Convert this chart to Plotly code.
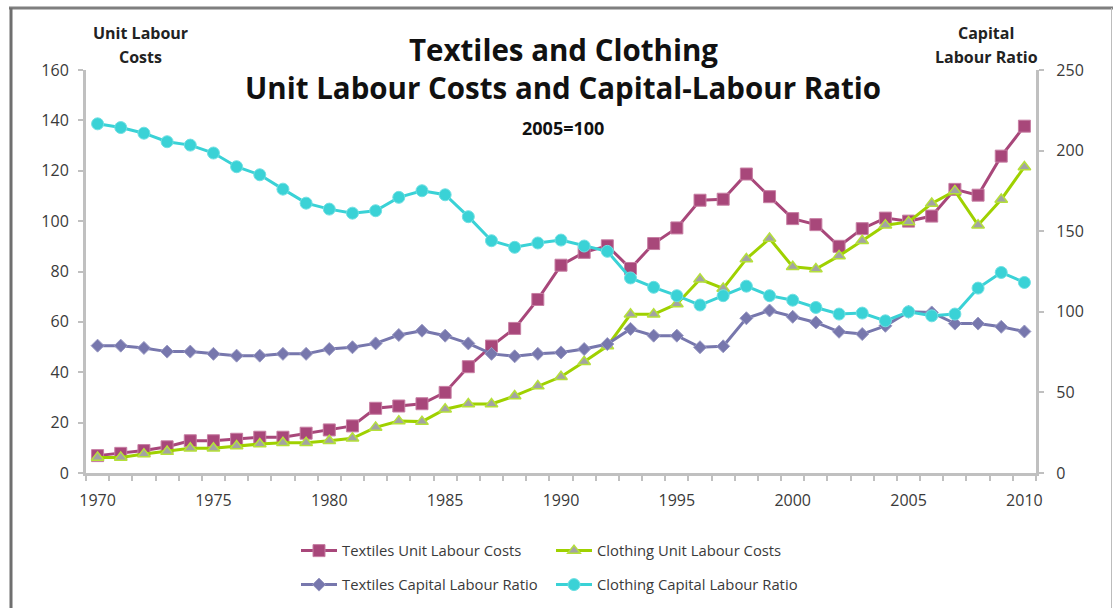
import plotly.graph_objects as go

# Annual series, 2005 = 100
years = list(range(1970, 2011))

textiles_ulc = [6.9, 7.8, 8.9, 10.4, 12.8, 12.8, 13.4, 14.2, 14.2, 15.8,
                17.1, 18.7, 25.7, 26.6, 27.5, 32.0, 42.2, 50.4, 57.4, 68.9,
                82.5, 87.6, 90.2, 81.2, 91.1, 97.3, 108.3, 108.7, 118.7, 109.7,
                101.0, 98.6, 90.0, 97.0, 101.2, 100.0, 102.0, 112.6, 110.3, 125.8,
                137.7]

clothing_ulc = [6.2, 6.2, 7.5, 8.5, 9.8, 9.8, 10.7, 11.5, 12.0, 12.0,
                12.8, 13.8, 18.1, 20.6, 20.4, 25.3, 27.4, 27.4, 30.6, 34.5,
                38.2, 44.2, 50.4, 63.0, 63.0, 67.1, 76.9, 73.3, 85.0, 93.1,
                81.9, 81.0, 86.2, 92.2, 98.4, 99.7, 107.0, 112.0, 98.4, 108.6,
                121.5]

textiles_klr = [79.0, 79.0, 77.6, 75.3, 75.3, 73.9, 72.8, 72.8, 73.9, 73.9,
                76.9, 78.0, 80.4, 85.6, 88.3, 85.2, 80.4, 73.9, 72.4, 73.9,
                74.8, 76.9, 80.0, 89.4, 85.2, 85.2, 78.0, 78.6, 96.0, 100.8,
                96.9, 93.4, 87.6, 86.2, 91.3, 100.0, 99.6, 92.7, 92.7, 90.7,
                87.8]

clothing_klr = [216.6, 214.3, 210.8, 205.5, 203.4, 198.5, 190.0, 185.0, 176.1, 167.4,
                163.7, 161.2, 162.7, 171.0, 175.1, 172.6, 159.0, 144.1, 140.0, 142.7,
                144.5, 140.8, 137.5, 121.0, 115.2, 110.0, 104.2, 110.0, 115.9, 110.0,
                107.2, 102.7, 98.6, 99.2, 94.4, 100.0, 97.5, 98.6, 114.7, 124.4,
                118.2]

left_ticks = [0, 20, 40, 60, 80, 100, 120, 140, 160]
right_ticks = [0, 50, 100, 150, 200, 250]
year_labels = [1970, 1975, 1980, 1985, 1990, 1995, 2000, 2005, 2010]

W, H = 1113, 608
L, R, T, B = 86, 1036, 70, 473

FONT = "Open Sans"
TXT = "#3a3a3a"
AXIS = "#c0c0c0"


def px(x):
    return (x - L) / (R - L)


def py(y):
    return (B - y) / (B - T)


fig = go.Figure()

fig.add_trace(go.Scatter(
    x=years, y=textiles_ulc, name="Textiles Unit Labour Costs", mode="lines+markers",
    line=dict(color="#a8477a", width=3),
    marker=dict(symbol="square", size=12, color="#a8477a",
                line=dict(color="#c77ea3", width=1)),
    legend="legend"))

fig.add_trace(go.Scatter(
    x=years, y=clothing_ulc, name="Clothing Unit Labour Costs", mode="lines+markers",
    line=dict(color="#9fd100", width=3),
    marker=dict(symbol="triangle-up", size=11, color="#a3a3a3",
                line=dict(color="#b5e03a", width=1.5)),
    legend="legend2"))

fig.add_trace(go.Scatter(
    x=years, y=textiles_klr, name="Textiles Capital Labour Ratio", mode="lines+markers",
    yaxis="y2",
    line=dict(color="#7777ad", width=3),
    marker=dict(symbol="diamond", size=10, color="#7777ad",
                line=dict(color="#9a9ac4", width=1)),
    legend="legend3"))

fig.add_trace(go.Scatter(
    x=years, y=clothing_klr, name="Clothing Capital Labour Ratio", mode="lines+markers",
    yaxis="y2",
    line=dict(color="#3ad2d6", width=3),
    marker=dict(symbol="circle", size=12, color="#3ad2d6",
                line=dict(color="#6fe0e3", width=1)),
    legend="legend4"))

tick_font = dict(family=FONT, size=16, color=TXT)

fig.update_layout(
    width=W, height=H,
    margin=dict(l=L, r=W - R, t=T, b=H - B, pad=0, autoexpand=False),
    paper_bgcolor="white", plot_bgcolor="white",
    showlegend=True,
    xaxis=dict(
        range=[1969.5, 2010.5], tickmode="array", tickvals=year_labels,
        ticks="", showgrid=False, zeroline=False,
        showline=True, linecolor=AXIS, linewidth=3,
        tickfont=tick_font, ticklabelstandoff=11,
        minor=dict(tickmode="linear", tick0=1969.5, dtick=1, ticks="outside",
                   ticklen=5, tickwidth=1.5, tickcolor=AXIS, showgrid=False),
    ),
    yaxis=dict(
        range=[0, 160], tickmode="array", tickvals=left_ticks,
        ticks="outside", ticklen=5, tickwidth=1.5, tickcolor=AXIS,
        showgrid=False, zeroline=False,
        showline=True, linecolor=AXIS, linewidth=3,
        tickfont=tick_font, ticklabelstandoff=6,
    ),
    yaxis2=dict(
        range=[0, 250], tickmode="array", tickvals=right_ticks,
        ticktext=["\u2007" + str(v) for v in right_ticks],
        overlaying="y", side="right",
        ticks="outside", ticklen=5, tickwidth=1.5, tickcolor=AXIS,
        showgrid=False, zeroline=False,
        showline=True, linecolor=AXIS, linewidth=3,
        tickfont=tick_font,
    ),
)

legend_font = dict(family=FONT, size=14.8, color=TXT)
legend_pos = {
    "legend": (296, 551),
    "legend2": (551, 551),
    "legend3": (296, 585),
    "legend4": (551, 585),
}
for key, (lx, ly) in legend_pos.items():
    fig.update_layout({key: dict(
        x=px(lx), y=py(ly), xanchor="left", yanchor="middle",
        font=legend_font, bgcolor="rgba(0,0,0,0)", itemwidth=36,
    )})


def label(text, x, y, size, color="#111111"):
    fig.add_annotation(text=text, x=px(x), y=py(y), xref="paper", yref="paper",
                       xanchor="center", yanchor="middle", showarrow=False,
                       font=dict(family=FONT, size=size, color=color))


# Titles
label("<b>Textiles and Clothing</b>", 563, 49, 29.5)
label("<b>Unit Labour Costs and Capital-Labour Ratio</b>", 563, 88, 29.5)
label("<b>2005=100</b>", 563, 128, 18)

# Axis titles
label("<b>Unit Labour</b>", 140, 33, 16, "#222222")
label("<b>Costs</b>", 140, 57, 16, "#222222")
label("<b>Capital</b>", 986, 33, 16, "#222222")
label("<b>Labour Ratio</b>", 986, 57, 16, "#222222")

# Outer frame of the chart
fig.add_shape(type="line", xref="paper", yref="paper",
              x0=px(9), x1=px(1113), y0=py(8), y1=py(8),
              line=dict(color="#7f7f7f", width=3))
fig.add_shape(type="line", xref="paper", yref="paper",
              x0=px(11), x1=px(11), y0=py(8), y1=py(610),
              line=dict(color="#6f6f6f", width=3))
fig.add_shape(type="line", xref="paper", yref="paper",
              x0=px(1111.5), x1=px(1111.5), y0=py(8), y1=py(610),
              line=dict(color="#bdbdbd", width=1))

fig.write_html("out.html")
